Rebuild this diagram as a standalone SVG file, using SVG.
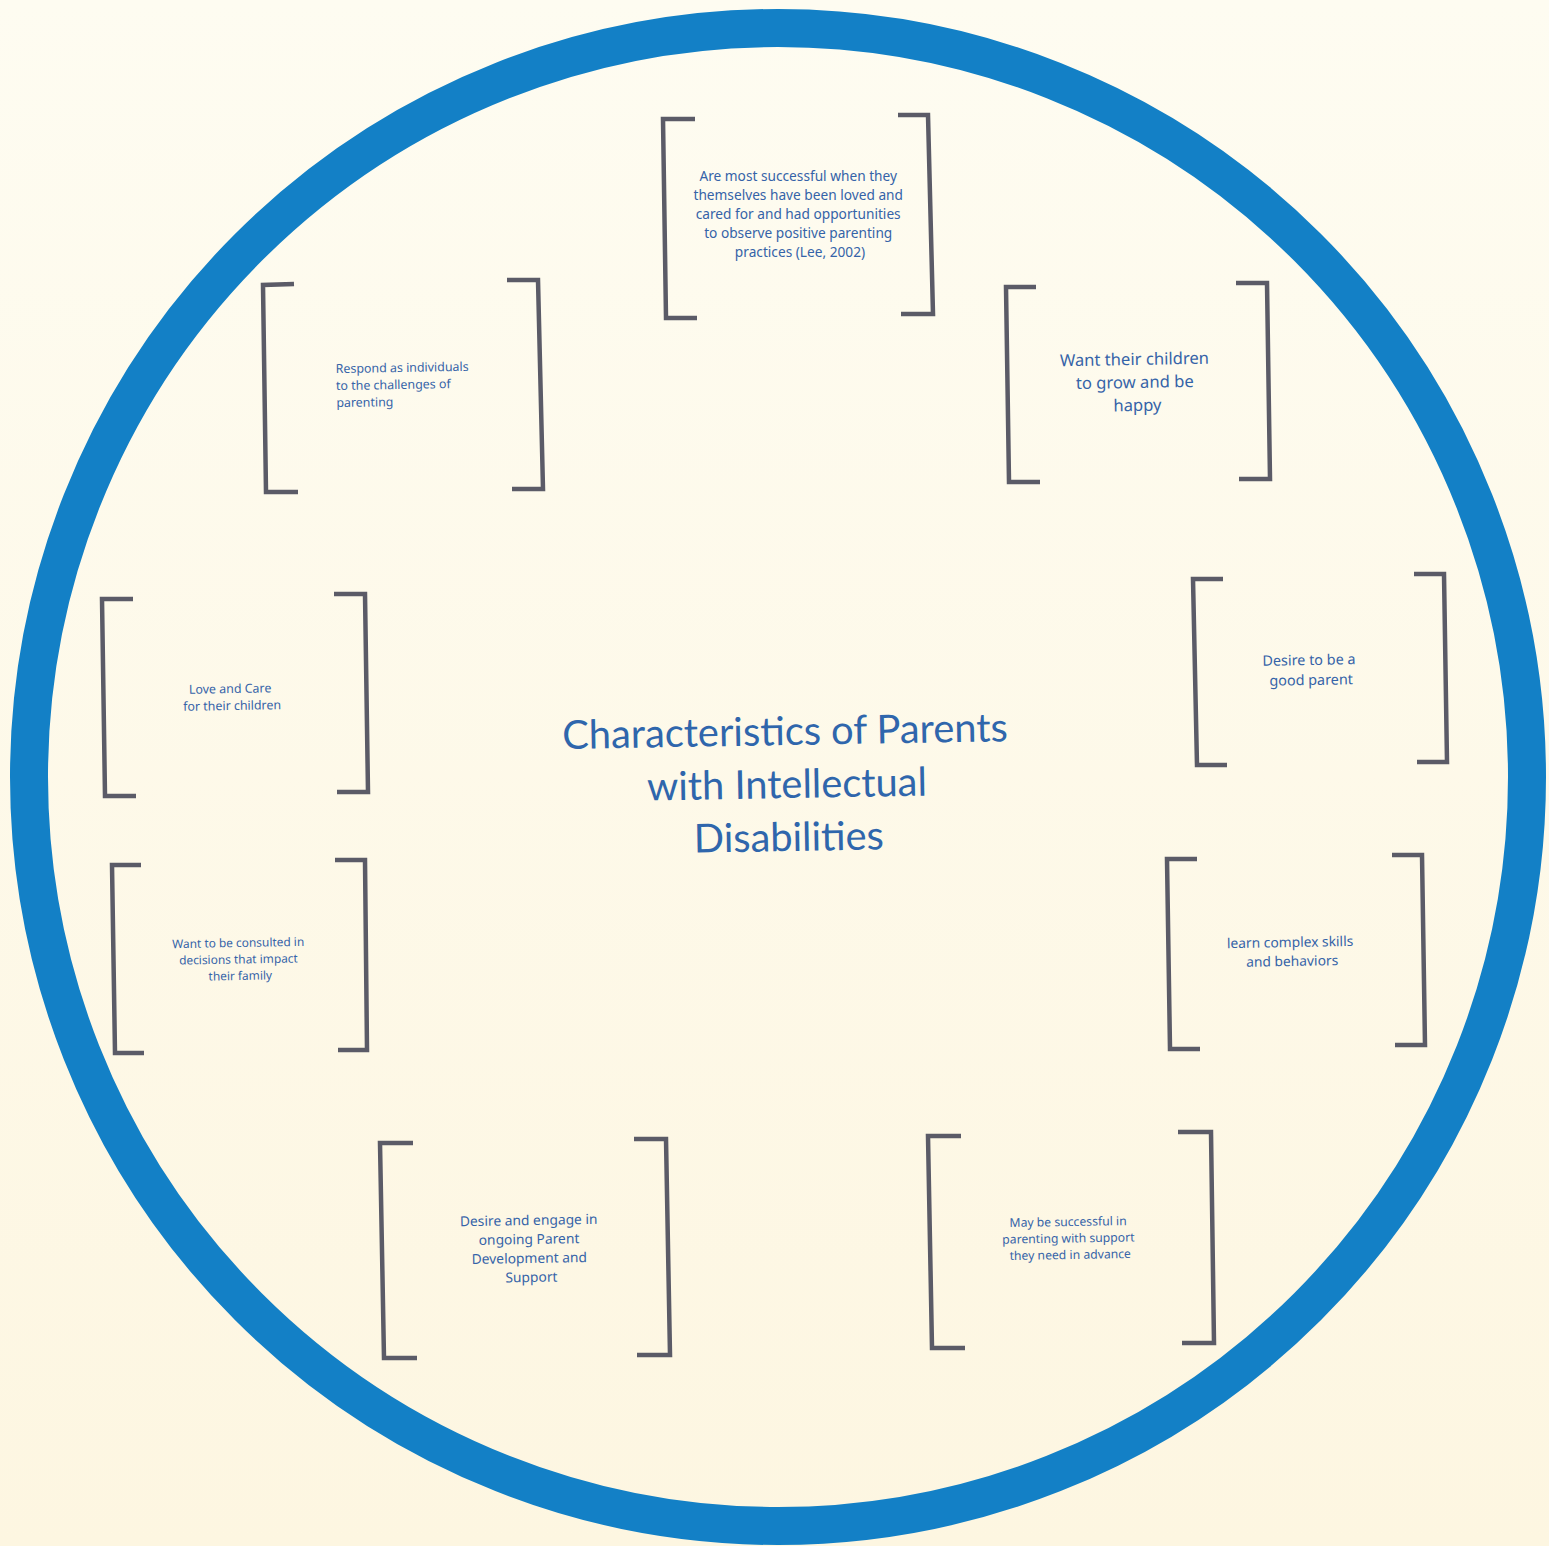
<svg xmlns="http://www.w3.org/2000/svg" width="1549" height="1546" viewBox="0 0 1549 1546">
<defs>
<linearGradient id="bg" x1="0" y1="0" x2="0" y2="1">
<stop offset="0" stop-color="#FEFCF1"/>
<stop offset="1" stop-color="#FDF6E1"/>
</linearGradient>
</defs>
<style>
.br{fill:none;stroke:#5B5B67;stroke-width:4.5;stroke-linejoin:miter;stroke-linecap:butt}
.t{font-family:"Noto Sans","Open Sans",sans-serif;fill:#3563A8}
.c{text-anchor:middle}
.title{font-family:Lato,"Open Sans",sans-serif;font-size:39.8px;fill:#2F66AC;text-anchor:middle}
</style>
<rect width="1549" height="1546" fill="url(#bg)"/>
<circle cx="778" cy="777" r="749" fill="none" stroke="#1380C6" stroke-width="38"/>

<g id="title" transform="rotate(-1 786 790)">
<text class="title" x="786" y="745">Characteristics of Parents</text>
<text class="title" x="787" y="798">with Intellectual</text>
<text class="title" x="788" y="851">Disabilities</text>
</g>

<g id="connectors"></g>

<g id="node-successful">
<polyline class="br" points="695,119 663,119 666,318 697,318"/>
<polyline class="br" points="898,115 928,115 933,314 901,314"/>
<text class="t c" font-size="13.7">
<tspan x="800" y="181">Are most successful when they</tspan>
<tspan x="800" y="200">themselves have been loved and</tspan>
<tspan x="800" y="219">cared for and had opportunities</tspan>
<tspan x="800" y="238">to observe positive parenting</tspan>
<tspan x="800" y="257">practices (Lee, 2002)</tspan>
</text>
</g>

<g id="node-respond">
<polyline class="br" points="294,284 263,285 266,492 298,492"/>
<polyline class="br" points="507,280 538,280 543,489 512,489"/>
<text class="t" font-size="12.4" transform="rotate(-1 400 385)">
<tspan x="336" y="372">Respond as individuals</tspan>
<tspan x="336" y="389">to the challenges of</tspan>
<tspan x="336" y="406">parenting</tspan>
</text>
</g>

<g id="node-grow">
<polyline class="br" points="1036,287 1006,287 1009,482 1040,482"/>
<polyline class="br" points="1236,283 1267,283 1270,479 1239,479"/>
<text class="t c" font-size="16.6" transform="rotate(-1 1137 385)">
<tspan x="1137" y="365">Want their children</tspan>
<tspan x="1137" y="388">to grow and be</tspan>
<tspan x="1137" y="411">happy</tspan>
</text>
</g>

<g id="node-love">
<polyline class="br" points="133,599 102,599 105,796 136,796"/>
<polyline class="br" points="334,594 365,594 368,792 337,792"/>
<text class="t c" font-size="12.4" transform="rotate(-1 232 700)">
<tspan x="232" y="693">Love and Care</tspan>
<tspan x="232" y="710">for their children</tspan>
</text>
</g>

<g id="node-good-parent">
<polyline class="br" points="1223,579 1193,579 1197,765 1227,765"/>
<polyline class="br" points="1414,574 1444,574 1447,762 1417,762"/>
<text class="t c" font-size="14.4" transform="rotate(-1 1311 672)">
<tspan x="1311" y="665">Desire to be a</tspan>
<tspan x="1311" y="685">good parent</tspan>
</text>
</g>

<g id="node-skills">
<polyline class="br" points="1197,859 1167,859 1170,1049 1200,1049"/>
<polyline class="br" points="1392,855 1422,855 1425,1045 1395,1045"/>
<text class="t c" font-size="13.8" transform="rotate(-1 1292 952)">
<tspan x="1292" y="947">learn complex skills</tspan>
<tspan x="1292" y="966">and behaviors</tspan>
</text>
</g>

<g id="node-consulted">
<polyline class="br" points="141,865 112,865 115,1053 144,1053"/>
<polyline class="br" points="335,860 365,860 367,1050 338,1050"/>
<text class="t c" font-size="11.9" transform="rotate(-1 240 960)">
<tspan x="240" y="947">Want to be consulted in</tspan>
<tspan x="240" y="963.5">decisions that impact</tspan>
<tspan x="240" y="980">their family</tspan>
</text>
</g>

<g id="node-development">
<polyline class="br" points="413,1143 380,1143 384,1358 417,1358"/>
<polyline class="br" points="634,1139 666,1139 670,1355 637,1355"/>
<text class="t c" font-size="13.8" transform="rotate(-1 531 1250)">
<tspan x="531" y="1225">Desire and engage in</tspan>
<tspan x="531" y="1244">ongoing Parent</tspan>
<tspan x="531" y="1263">Development and</tspan>
<tspan x="531" y="1282">Support</tspan>
</text>
</g>

<g id="node-support">
<polyline class="br" points="961,1136 928,1136 932,1348 965,1348"/>
<polyline class="br" points="1178,1132 1211,1132 1214,1343 1182,1343"/>
<text class="t c" font-size="12.2" transform="rotate(-1 1070 1240)">
<tspan x="1070" y="1226">May be successful in</tspan>
<tspan x="1070" y="1242.5">parenting with support</tspan>
<tspan x="1070" y="1259">they need in advance</tspan>
</text>
</g>
</svg>
